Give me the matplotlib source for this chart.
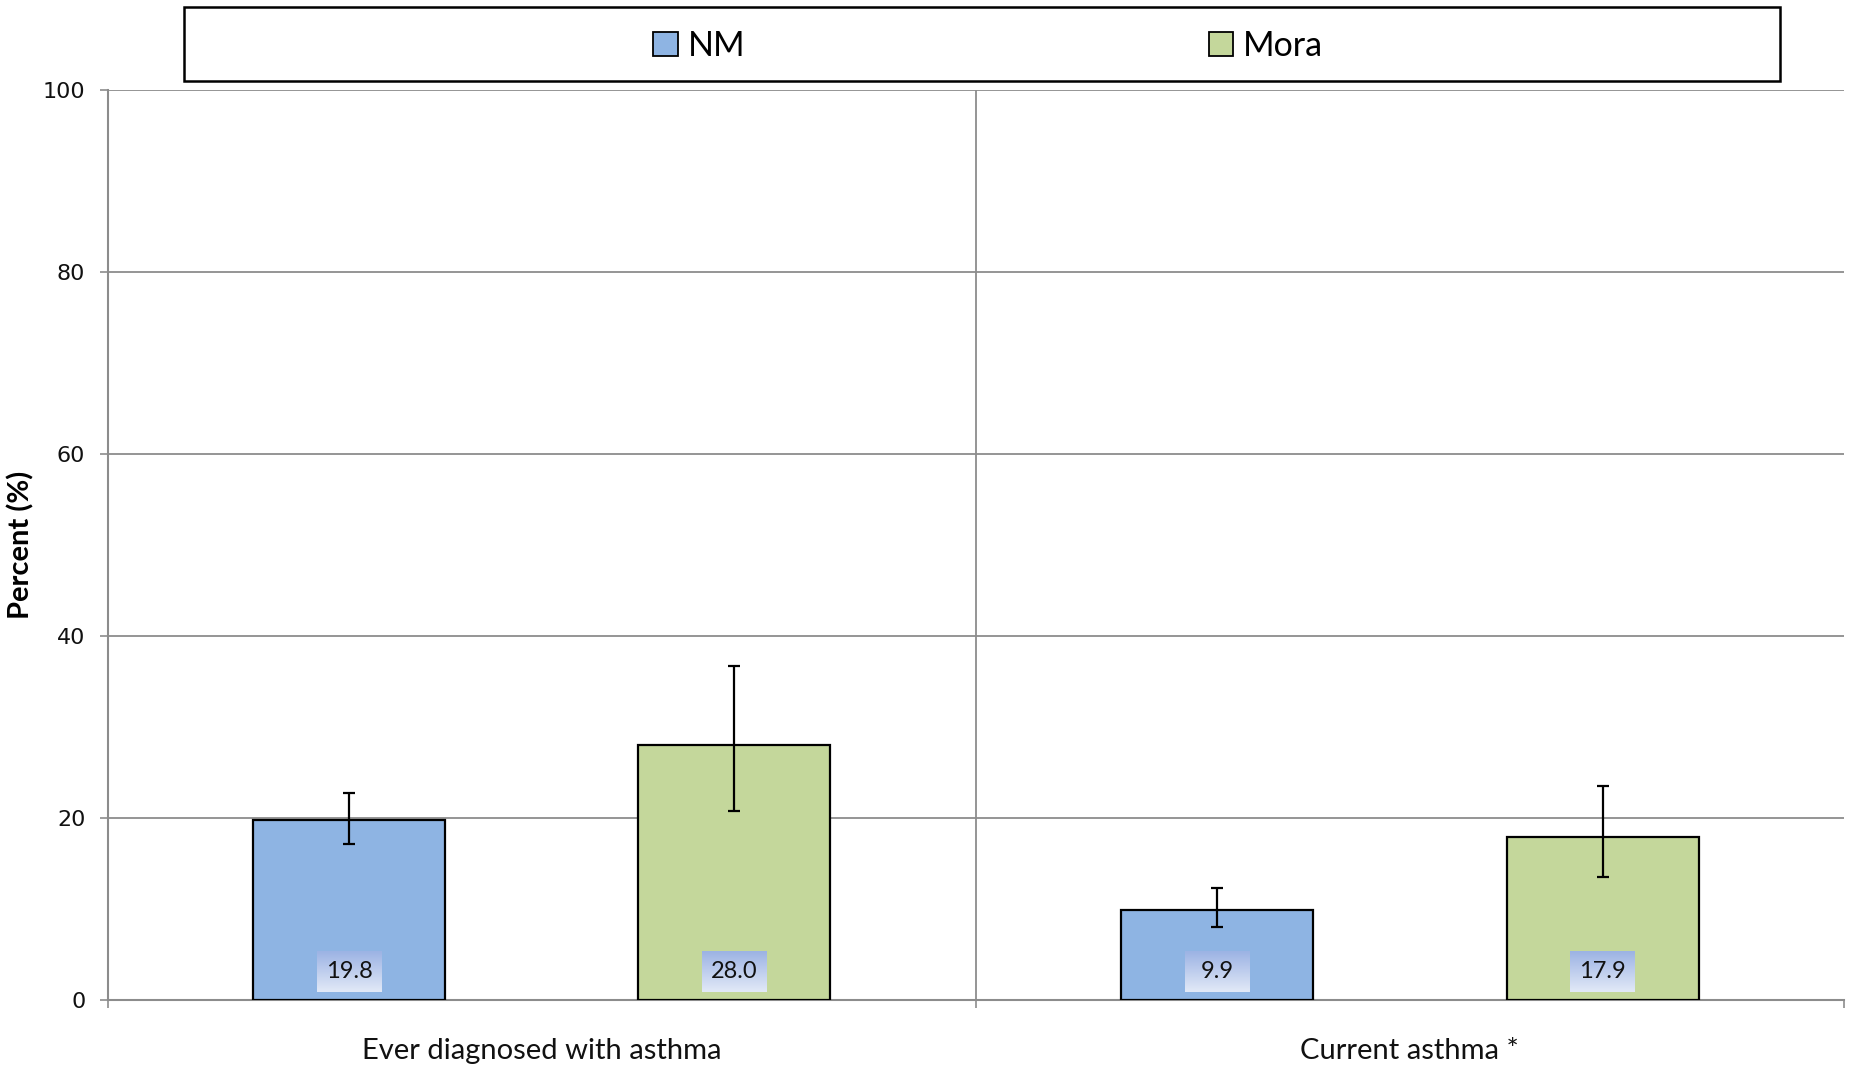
import numpy as np
import matplotlib
matplotlib.use('Agg')
import matplotlib.pyplot as plt
from matplotlib.patches import Rectangle
from matplotlib.colors import LinearSegmentedColormap

categories = ["Ever diagnosed with asthma", "Current asthma *"]
series = ["NM", "Mora"]
nm_vals = [19.8, 9.9]
mora_vals = [28.0, 17.9]
nm_lo = [17.1, 8.0]
nm_hi = [22.8, 12.3]
mora_lo = [20.8, 13.5]
mora_hi = [36.7, 23.5]
yticks = [0, 20, 40, 60, 80, 100]

NM_COLOR = '#8eb4e3'
MORA_COLOR = '#c4d79b'
GRID = '#8c8c8c'

fig = plt.figure(figsize=(18.51, 10.69), dpi=100)
ax = fig.add_axes([0.0581, 0.0645, 0.9381, 0.8513])

x = np.arange(len(categories)) + 0.5
off, w = 0.222, 0.221
grad = LinearSegmentedColormap.from_list('lbl', ['#e2e9f7', '#9cb3e4'])

for vals, lo, hi, color, sign, name in [(nm_vals, nm_lo, nm_hi, NM_COLOR, -1, 'NM'),
                                        (mora_vals, mora_lo, mora_hi, MORA_COLOR, 1, 'Mora')]:
    xs = x + sign * off
    vals = np.array(vals)
    err = [vals - np.array(lo), np.array(hi) - vals]
    ax.bar(xs, vals, width=w, color=color, edgecolor='black', linewidth=1.6,
           label=name, zorder=3)
    ax.errorbar(xs, vals, yerr=err, fmt='none', ecolor='black', elinewidth=1.6,
                capsize=4.5, capthick=1.6, zorder=4)
    for xi, v in zip(xs, vals):
        # gradient label box at the bottom of the bar
        ax.imshow(np.linspace(0, 1, 50).reshape(-1, 1), cmap=grad, aspect='auto',
                  extent=(xi - 0.037, xi + 0.037, 0.9, 5.4), origin='lower', zorder=5)
        ax.text(xi, 3.1, f'{v:.1f}', ha='center', va='center', fontsize=17,
                family='Lato', color='#111111', zorder=6)

ax.set_xlim(0, 2)
ax.set_ylim(0, 100)
ax.set_yticks(yticks)
ax.set_yticklabels([str(t) for t in yticks], fontsize=16, color='#111111')
ax.tick_params(axis='y', length=6, width=1.2, color=GRID, pad=10)

ax.set_xticks([0, 1, 2])
ax.set_xticklabels(['', '', ''])
ax.tick_params(axis='x', which='major', length=6, width=1.2, color=GRID)
ax.set_xticks(x, minor=True)
ax.set_xticklabels(categories, minor=True, fontsize=21, family='Lato', color='#111111')
ax.tick_params(axis='x', which='minor', length=0, pad=27)

ax.grid(axis='y', color=GRID, linewidth=1.3, zorder=0)
ax.axvline(1, color=GRID, linewidth=1.3, zorder=0)
for s in ['top', 'right']:
    ax.spines[s].set_visible(False)
for s in ['left', 'bottom']:
    ax.spines[s].set_color(GRID)
    ax.spines[s].set_linewidth(1.5)
ax.set_axisbelow(True)

ax.set_ylabel('Percent (%)', fontsize=21, fontweight='bold', family='Lato', labelpad=6)

# legend box above the plot
fig.patches.append(Rectangle((184 / 1851, 1 - 81 / 1069), 1596 / 1851, 74 / 1069,
                             transform=fig.transFigure, facecolor='white',
                             edgecolor='black', linewidth=1.8, zorder=0))
handles, labels = ax.get_legend_handles_labels()
leg = fig.legend(handles, labels, loc='center', bbox_to_anchor=(0.534, 1 - 46 / 1069),
                 ncol=2, frameon=False, prop={'family': 'Lato', 'size': 24.5},
                 handlelength=0.72, handleheight=0.72, handletextpad=0.3,
                 columnspacing=13.6)
for h in leg.legend_handles:
    h.set_linewidth(1.3)

fig.savefig('out.png', dpi=100)
